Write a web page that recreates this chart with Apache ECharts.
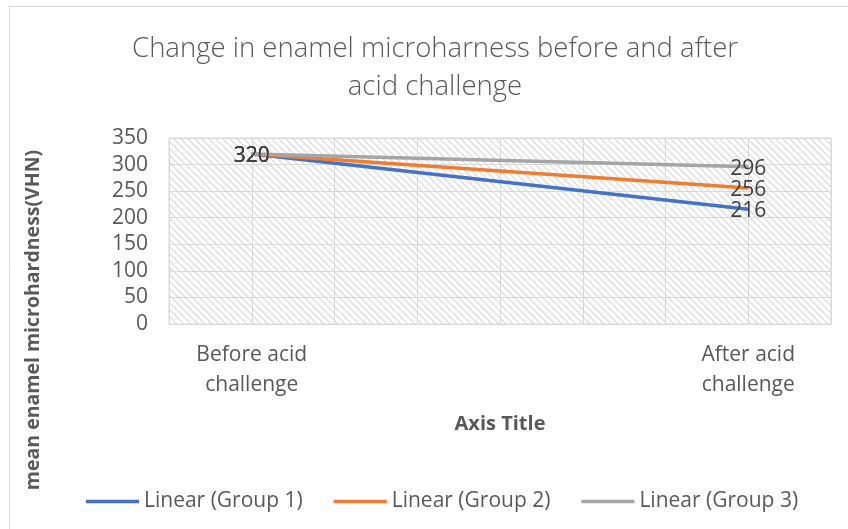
<!DOCTYPE html>
<html>
<head>
<meta charset="utf-8">
<script src="https://cdn.jsdelivr.net/npm/echarts@6/dist/echarts.min.js"></script>
<style>html,body{margin:0;padding:0;background:#fff;}#c{width:848px;height:529px;}</style>
</head>
<body>
<div id="c"></div>
<script>
// ---- data ----
const chartTitle = 'Change in enamel microharness before and after\nacid challenge';
const yAxisTitle = 'mean enamel microhardness(VHN)';
const xAxisTitle = 'Axis Title';
const categories = ['', 'Before acid\nchallenge', '', '', '', '', '', 'After acid\nchallenge', ''];
const seriesNames = ['Linear (Group 1)', 'Linear (Group 2)', 'Linear (Group 3)'];
const group1 = [null, 320, null, null, null, null, null, 216, null];
const group2 = [null, 320, null, null, null, null, null, 256, null];
const group3 = [null, 320, null, null, null, null, null, 296, null];
const yTicks = { min: 0, max: 350, interval: 50 };

// ---- styles ----
const colors = ['#4472C4', '#ED7D31', '#A5A5A5'];
const FONT = '"Open Sans", "Liberation Sans", sans-serif';

// hatch pattern
const tile = document.createElement('canvas');
tile.width = 7; tile.height = 7;
const tc = tile.getContext('2d');
tc.fillStyle = '#ffffff'; tc.fillRect(0, 0, 7, 7);
tc.strokeStyle = '#d6d6d6'; tc.lineWidth = 1.1;
for (const off of [-7, 0, 7]) {
  tc.beginPath(); tc.moveTo(off - 1, -1); tc.lineTo(off + 8, 8); tc.stroke();
}

const chart = echarts.init(document.getElementById('c'), null, { renderer: 'canvas' });
const allData = [group1, group2, group3];
chart.setOption({
  animation: false,
  backgroundColor: '#ffffff',
  title: {
    text: chartTitle, left: 430, top: 25, textAlign: 'center',
    textStyle: { fontFamily: FONT, fontSize: 27.5, fontWeight: 300, color: '#595959', lineHeight: 38 }
  },
  graphic: [
    { type: 'rect', shape: { x: 9.5, y: 6.5, width: 900, height: 600 }, style: { fill: 'none', stroke: '#d9d9d9', lineWidth: 1 }, silent: true, z: -10 },
    { type: 'text', x: 33, y: 320, rotation: Math.PI / 2,
      style: { text: yAxisTitle, fontFamily: FONT, fontSize: 19.5, fontWeight: 'bold', fill: '#595959', align: 'center', verticalAlign: 'middle' } }
  ],
  grid: {
    left: 169, right: 17, top: 138, bottom: 205, show: true,
    backgroundColor: { image: tile, repeat: 'repeat' },
    borderColor: '#d9d9d9', borderWidth: 1
  },
  legend: {
    top: 491, left: 86, padding: 0, itemWidth: 53, itemHeight: 3.5, itemGap: 31, icon: 'rect',
    textStyle: { fontFamily: FONT, fontSize: 21, color: '#595959', padding: [0, 0, 0, 0] },
    data: seriesNames
  },
  xAxis: {
    type: 'category', data: categories, boundaryGap: false,
    axisLine: { show: true, lineStyle: { color: '#d9d9d9' } },
    axisTick: { show: false },
    splitLine: { show: true, lineStyle: { color: '#d9d9d9', width: 1 } },
    axisLabel: { interval: 0, fontFamily: FONT, fontSize: 21, color: '#595959', lineHeight: 30, margin: 16 },
    name: xAxisTitle, nameLocation: 'middle', nameGap: 90,
    nameTextStyle: { fontFamily: FONT, fontSize: 20, fontWeight: 'bold', color: '#595959' }
  },
  yAxis: {
    type: 'value', min: yTicks.min, max: yTicks.max, interval: yTicks.interval,
    axisLine: { show: false }, axisTick: { show: false },
    splitLine: { show: true, lineStyle: { color: '#d9d9d9', width: 1 } },
    axisLabel: { fontFamily: FONT, fontSize: 21, color: '#595959', margin: 21 }
  },
  series: allData.map((d, i) => ({
    name: seriesNames[i], type: 'line', data: d, connectNulls: true,
    symbol: 'circle', symbolSize: 1, showSymbol: true,
    itemStyle: { color: colors[i] },
    lineStyle: { color: colors[i], width: 3.5 },
    label: { show: true, position: 'inside', offset: [0, 2], fontFamily: FONT, fontSize: 21, color: '#404040' },
    z: 2 + i
  }))
});
</script>
</body>
</html>
